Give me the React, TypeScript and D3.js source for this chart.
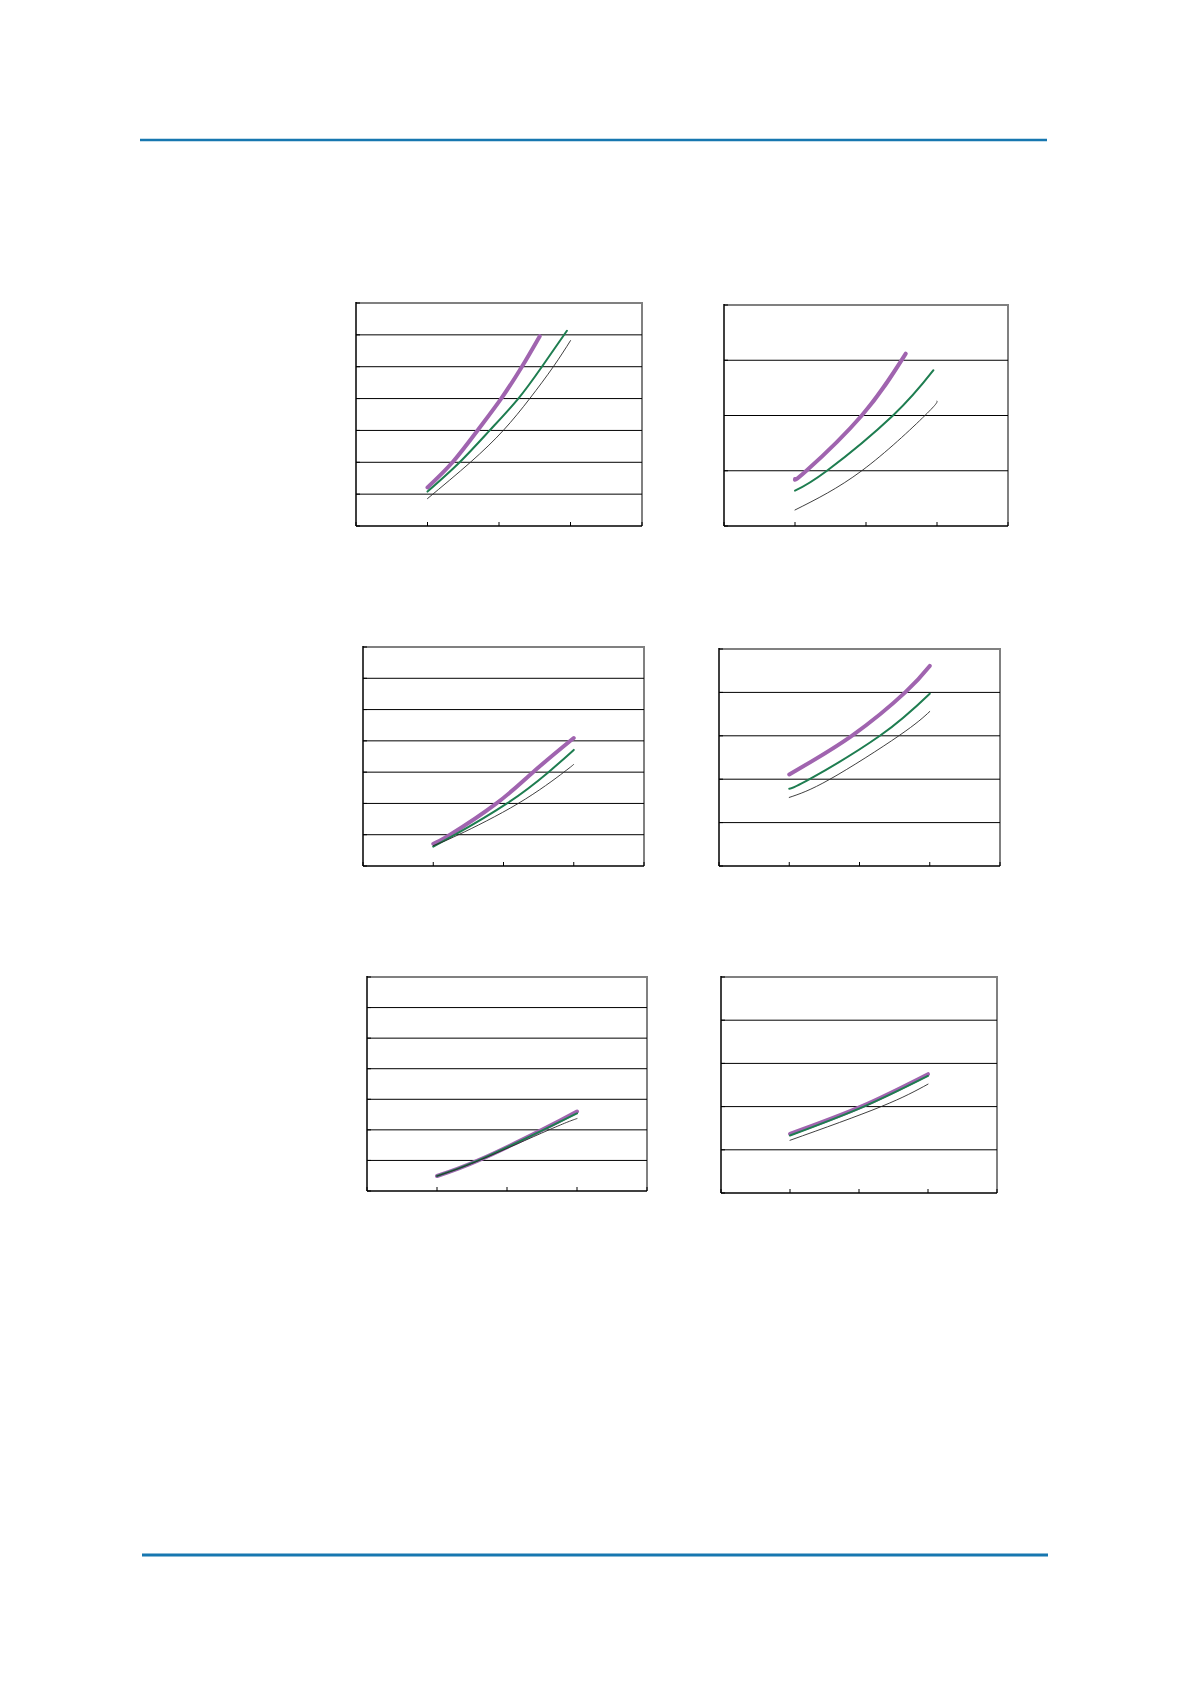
import * as d3 from "d3";

// Six small panels; x in tick units (0..4), y in gridline units
// each series: [x, y] points
const PANEL_Y_MAX = [7, 4, 7, 5, 7, 5];
const X_TICKS = [0, 1, 2, 3, 4];

const PURPLE = [
  [[1, 1.21], [1.35, 2], [1.7, 3], [2.03, 4], [2.32, 5], [2.57, 5.96]],
  [[1, 0.85], [1.16, 1], [1.94, 2], [2.56, 3.12]],
  [[1, 0.71], [1.24, 1], [1.9, 2], [2.42, 3], [3, 4.09]],
  [[1, 2.11], [1.89, 3], [2.65, 4], [3, 4.61]],
  [[1, 0.49], [1.59, 1], [2.5, 2], [3, 2.6]],
  [[1, 1.37], [2.03, 2], [3, 2.75]],
];

const GREEN = [
  [[1, 1.08], [1.45, 2], [1.87, 3], [2.27, 4], [2.6, 5], [2.95, 6.13]],
  [[1, 0.64], [1.45, 1], [2.38, 2], [2.95, 2.82]],
  [[1, 0.62], [1.31, 1], [2.05, 2], [2.64, 3], [3, 3.71]],
  [[1, 1.78], [1.29, 2], [2.29, 3], [3, 3.97]],
  [[1, 0.49], [1.59, 1], [2.52, 2], [3, 2.54]],
  [[1, 1.33], [2.07, 2], [3, 2.71]],
];

const BLACK = [
  [[1, 0.86], [1.6, 2], [2.06, 3], [2.43, 4], [2.76, 5], [3, 5.82]],
  [[1, 0.29], [1.94, 1], [2.83, 2], [3, 2.26]],
  [[1, 0.65], [1.36, 1], [2.21, 2], [2.86, 3], [3, 3.25]],
  [[1, 1.58], [1.58, 2], [2.56, 3], [3, 3.56]],
  [[1, 0.49], [1.6, 1], [2.6, 2], [3, 2.37]],
  [[1, 1.22], [2.32, 2], [3, 2.52]],
];

// plot-area boxes on the page
const BOXES = [
  { x0: 356, x1: 642, y0: 303, y1: 526 },
  { x0: 724, x1: 1008, y0: 305, y1: 526 },
  { x0: 363, x1: 644, y0: 647, y1: 866 },
  { x0: 719, x1: 1000, y0: 649, y1: 866 },
  { x0: 367, x1: 647, y0: 977, y1: 1191 },
  { x0: 721, x1: 997, y0: 977, y1: 1193 },
];

const SERIES_STYLE = [
  { key: "purple", color: "#A064AF", width: 4 },
  { key: "green", color: "#1E7D50", width: 2 },
  { key: "black", color: "#2a2a2a", width: 0.9 },
];

function Panel({ i }: { i: number }) {
  const b = BOXES[i];
  const yMax = PANEL_Y_MAX[i];
  const x = d3.scaleLinear().domain([0, 4]).range([b.x0, b.x1]);
  const y = d3.scaleLinear().domain([0, yMax]).range([b.y1, b.y0]);
  const line = d3
    .line<number[]>()
    .x((d) => x(d[0]))
    .y((d) => y(d[1]))
    .curve(d3.curveNatural);
  const grid = d3.range(1, yMax);
  const data = [PURPLE[i], GREEN[i], BLACK[i]];

  return (
    <g>
      {/* top & right border, grey */}
      <path
        d={`M${b.x0},${b.y0}H${b.x1}V${b.y1}`}
        fill="none"
        stroke="#808080"
        strokeWidth={2}
      />
      {grid.map((v) => (
        <line key={v} x1={b.x0} x2={b.x1} y1={y(v)} y2={y(v)} stroke="#000" strokeWidth={1} />
      ))}
      {d3.range(0, yMax + 1).map((v) => (
        <line key={"yt" + v} x1={b.x0} x2={b.x0 + 4} y1={y(v)} y2={y(v)} stroke="#000" strokeWidth={1} />
      ))}
      {X_TICKS.map((t) => (
        <line key={"xt" + t} x1={x(t)} x2={x(t)} y1={b.y1} y2={b.y1 - 4} stroke="#000" strokeWidth={1} />
      ))}
      <line x1={b.x0} x2={b.x0} y1={b.y0 - 1} y2={b.y1} stroke="#000" strokeWidth={1.5} />
      <line x1={b.x0} x2={b.x1} y1={b.y1} y2={b.y1} stroke="#000" strokeWidth={1.5} />
      {data.map((s, k) => (
        <path
          key={SERIES_STYLE[k].key}
          d={line(s) ?? ""}
          fill="none"
          stroke={SERIES_STYLE[k].color}
          strokeWidth={SERIES_STYLE[k].width}
          strokeLinecap="round"
        />
      ))}
    </g>
  );
}

export default function App() {
  return (
    <svg
      width={1191}
      height={1684}
      style={{ position: "absolute", left: 0, top: 0, background: "#fff" }}
    >
      <rect width={1191} height={1684} fill="#fff" />
      <line x1={140} x2={1047} y1={140} y2={140} stroke="#1777B0" strokeWidth={2.5} />
      <line x1={142} x2={1048} y1={1555} y2={1555} stroke="#1777B0" strokeWidth={3} />
      {BOXES.map((_, i) => (
        <Panel key={i} i={i} />
      ))}
    </svg>
  );
}
